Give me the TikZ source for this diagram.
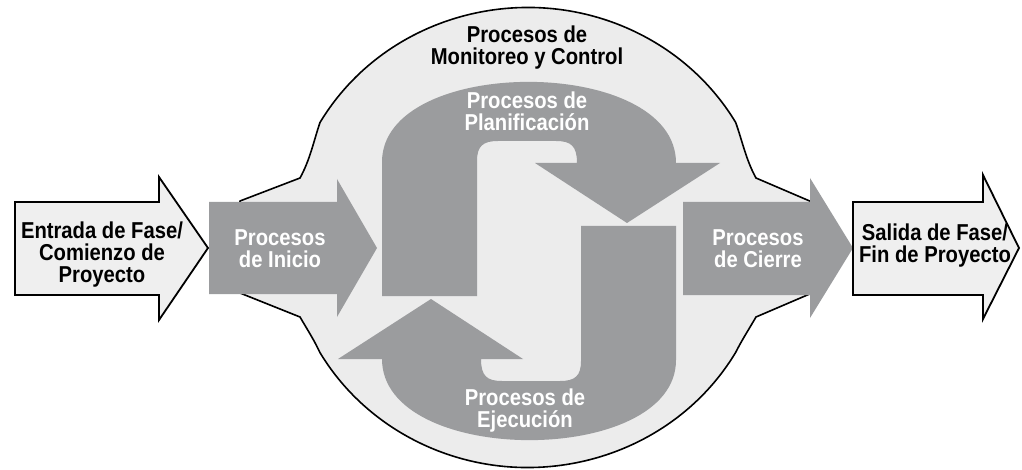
\documentclass[tikz,border=0pt]{standalone}
\usepackage{fontspec}
\setmainfont{Liberation Sans}[FakeStretch=0.88]
\usepackage{tikz}
\definecolor{procgray}{RGB}{155,156,158}
\definecolor{blobfill}{RGB}{236,236,236}
\definecolor{phasefill}{RGB}{239,239,239}

\begin{document}
\begin{tikzpicture}[x=1pt,y=-1pt,
    blob/.style={fill=blobfill,draw=black,line width=1.6pt,line join=round},
    procarrow/.style={fill=procgray},
    phasearrow/.style={fill=phasefill,draw=black,line width=1.8pt,line join=miter},
    lbl/.style={align=center,font=\fontsize{23}{22}\selectfont\bfseries,inner sep=0pt},
    wlbl/.style={lbl,text=white}]
          \useasboundingbox (0,0) rectangle (1022,470);
          \draw[blob] (240,201) -- (300,178) .. controls (310,160) and (314,140) .. (320,122.5)
            arc[start angle=150,end angle=30,x radius=240pt,y radius=230pt]
            .. controls (742,140) and (746,160) .. (756,178) -- (812,202) -- (812,293) -- (756,317)
            .. controls (746,334) and (742,340) .. (735.6,352.5)
            arc[start angle=-30,end angle=-150,x radius=240pt,y radius=230pt]
            .. controls (314,340) and (310,334) .. (300,317) -- (240,293) -- cycle;
          \fill[procarrow] (209,202) -- (337,202) -- (337,179) -- (377,248) -- (337,317)
            -- (337,294) -- (209,294) -- cycle;
          \fill[procarrow] (683,202) -- (810,202) -- (810,178) -- (853,248) -- (810,318)
            -- (810,295) -- (683,295) -- cycle;
          \fill[procarrow] (382,296) -- (382,162) .. controls (382,55) and (676,55) .. (676,163)
            -- (720,163) -- (627,223) -- (535,163) -- (577,163)
            .. controls (577,146) and (571,141) .. (556,141) -- (498,141)
            .. controls (483,141) and (477,146) .. (477,161) -- (477,296) -- cycle;
          \begin{scope}[rotate around={180:(529,261)}]
            \fill[procarrow] (382,296) -- (382,162) .. controls (382,55) and (676,55) .. (676,163)
              -- (720,163) -- (627,223) -- (535,163) -- (577,163)
              .. controls (577,146) and (571,141) .. (556,141) -- (498,141)
              .. controls (483,141) and (477,146) .. (477,161) -- (477,296) -- cycle;
          \end{scope}
          \draw[phasearrow] (15,202) -- (159,202) -- (159,177) -- (208,248) -- (159,320)
            -- (159,295) -- (15,295) -- cycle;
          \draw[phasearrow] (853,202) -- (983,202) -- (983,175) -- (1019,248) -- (983,319)
            -- (983,295) -- (853,295) -- cycle;
          \node[lbl] (monitoreo) at (527,48) {Procesos de\\Monitoreo y Control};
          \node[wlbl] (planificacion) at (527,111) {Procesos de\\Planificación};
          \node[wlbl] (ejecucion) at (525,411) {Procesos de\\Ejecución};
          \node[wlbl] (inicio) at (280,249) {Procesos\\de Inicio};
          \node[wlbl] (cierre) at (758,249) {Procesos\\de Cierre};
          \node[lbl] (entrada) at (102,255) {Entrada de Fase/\\Comienzo de\\Proyecto};
          \node[lbl] (salida) at (935,246) {Salida de Fase/\\Fin de Proyecto};
        \end{tikzpicture}
\end{document}
